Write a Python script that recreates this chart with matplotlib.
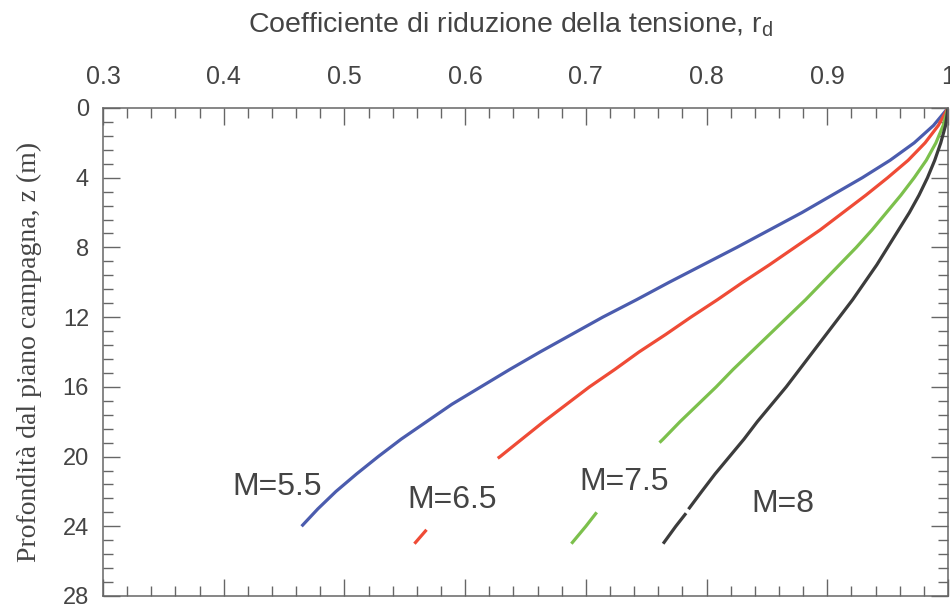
import numpy as np
import matplotlib
matplotlib.use("Agg")
import matplotlib.pyplot as plt
from matplotlib.ticker import MultipleLocator

plt.rcParams['font.family'] = ['Liberation Sans', 'DejaVu Sans']
plt.rcParams['mathtext.fontset'] = 'custom'
plt.rcParams['mathtext.rm'] = 'Liberation Sans'
plt.rcParams['mathtext.it'] = 'Liberation Sans:italic'

nan = np.nan
# Depth (m) and stress reduction coefficient rd (NaN = gap under label)
z_55 = [0, 1, 2, 3, 4, 5, 6, 7, 8, 9, 10, 11, 12, 13, 14, 15, 16, 17, 18, 19, 20, 21, 22, 23, 24]
rd_55 = [1.0, 0.988, 0.972, 0.952, 0.929, 0.904, 0.879, 0.852, 0.825, 0.797, 0.769, 0.742,
         0.714, 0.688, 0.662, 0.637, 0.613, 0.589, 0.568, 0.547, 0.528, 0.510, 0.493, 0.478, 0.4645]

z_65 = [0, 1, 2, 3, 4, 5, 6, 7, 8, 9, 10, 11, 12, 13, 14, 15, 16, 17, 18, 19, 20, 20.1,
        nan, 24.2, 25]
rd_65 = [1.0, 0.992, 0.981, 0.967, 0.950, 0.932, 0.913, 0.894, 0.873, 0.852, 0.830, 0.809,
         0.787, 0.766, 0.744, 0.724, 0.703, 0.684, 0.665, 0.647, 0.629, 0.627,
         nan, 0.568, 0.558]

z_75 = [0, 1, 2, 3, 4, 5, 6, 7, 8, 9, 10, 11, 12, 13, 14, 15, 16, 17, 18, 19, 19.2,
        nan, 23.2, 24, 25]
rd_75 = [1.0, 0.996, 0.990, 0.982, 0.972, 0.961, 0.949, 0.937, 0.924, 0.910, 0.896, 0.882,
         0.867, 0.852, 0.837, 0.822, 0.808, 0.793, 0.778, 0.764, 0.761,
         nan, 0.709, 0.700, 0.688]

z_8 = [0, 1, 2, 3, 4, 5, 6, 7, 8, 9, 10, 11, 12, 13, 14, 15, 16, 17, 18, 19, 20, 21, 22, 23.02,
       nan, 23.25, 24, 25]
rd_8 = [1.0, 0.998, 0.994, 0.989, 0.983, 0.976, 0.968, 0.959, 0.950, 0.941, 0.931, 0.921,
        0.910, 0.899, 0.888, 0.877, 0.866, 0.854, 0.842, 0.831, 0.819, 0.807, 0.796, 0.785,
        nan, 0.783, 0.7745, 0.764]

labels = ["M=5.5", "M=6.5", "M=7.5", "M=8"]
label_rd = [0.444, 0.589, 0.732, 0.863]
label_z = [22.2, 22.95, 21.9, 23.2]
colors = ["#4b5cae", "#ef4b36", "#7cc04c", "#3c3c3c"]

x_ticks = [0.3, 0.4, 0.5, 0.6, 0.7, 0.8, 0.9, 1.0]
x_tick_labels = ["0.3", "0.4", "0.5", "0.6", "0.7", "0.8", "0.9", "1"]
y_ticks = [0, 4, 8, 12, 16, 20, 24, 28]

fig = plt.figure(figsize=(9.5, 6.08), dpi=100)
ax = fig.add_axes([103/950, 12/608, 845/950, 488/608])

series = [(rd_55, z_55), (rd_65, z_65), (rd_75, z_75), (rd_8, z_8)]
for (x, y), c in zip(series, colors):
    ax.plot(x, y, color=c, lw=2.3, solid_capstyle='butt', solid_joinstyle='round')

for t, xx, yy in zip(labels, label_rd, label_z):
    ax.text(xx, yy, t, fontsize=23, color="#444444", ha='center', va='baseline')

ax.set_xlim(0.3, 1.0)
ax.set_ylim(28, 0)
ax.xaxis.set_ticks_position('both')
ax.yaxis.set_ticks_position('both')
ax.set_xticks(x_ticks)
ax.set_xticklabels(x_tick_labels)
ax.set_yticks(y_ticks)
ax.xaxis.set_minor_locator(MultipleLocator(0.02))
ax.yaxis.set_minor_locator(MultipleLocator(0.8))
ax.tick_params(axis='x', which='both', labeltop=True, labelbottom=False)
ax.tick_params(which='major', direction='in', length=12.5, width=1.0, color='#666666',
               labelcolor='#444444')
ax.tick_params(which='minor', direction='in', length=7.5, width=1.0, color='#666666')
ax.tick_params(axis='x', which='major', pad=14, labelsize=18)
ax.tick_params(axis='y', which='major', pad=10, labelsize=17)
for s in ax.spines.values():
    s.set_color('#666666')
    s.set_linewidth(1.1)

fig.text(511/950, 1 - 25/608, "Coefficiente di riduzione della tensione, r$_\\mathregular{d}$",
         fontsize=20.5, color='#444444', ha='center', va='center')
ax.set_ylabel("Profondità dal piano campagna, z (m)", fontsize=20, color='#444444',
              family=['Liberation Serif', 'DejaVu Serif'], labelpad=15)

fig.savefig("out.png", dpi=100)
